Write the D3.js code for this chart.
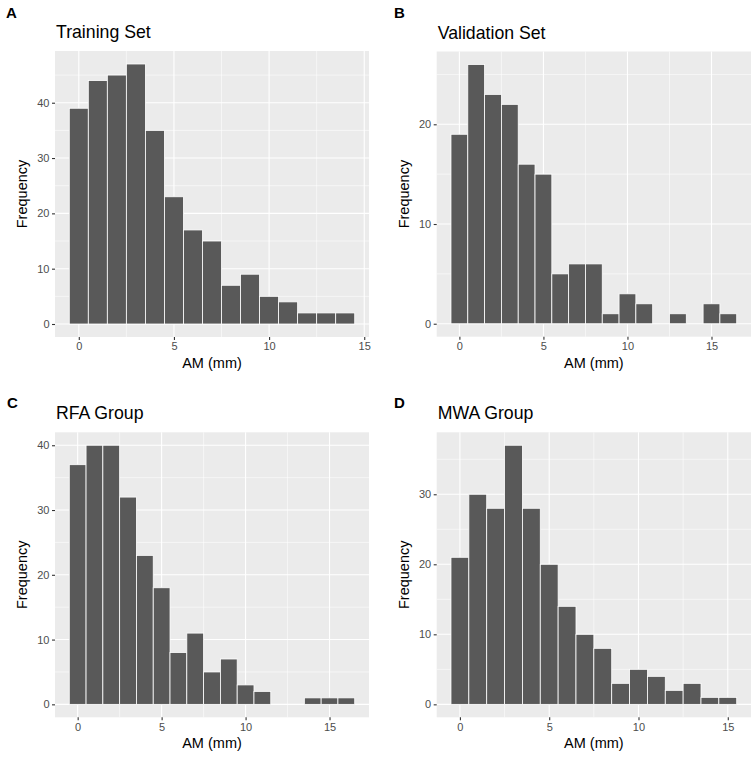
<!DOCTYPE html>
<html>
<head>
<meta charset="utf-8">
<script src="https://cdn.jsdelivr.net/npm/d3@7"></script>
<style>
  body { margin: 0; background: #fff; }
  svg { font-family: "Liberation Sans", Arial, sans-serif; }
</style>
</head>
<body>
<div id="chart"></div>
<script>
// histogram counts, one value per 1 mm bin starting at 0
var trainingSet = [39, 44, 45, 47, 35, 23, 17, 15, 7, 9, 5, 4, 2, 2, 2];
var validationSet = [19, 26, 23, 22, 16, 15, 5, 6, 6, 1, 3, 2, 0, 1, 0, 2, 1];
var rfaGroup = [37, 40, 40, 32, 23, 18, 8, 11, 5, 7, 3, 2, 0, 0, 1, 1, 1];
var mwaGroup = [21, 30, 28, 37, 28, 20, 14, 10, 8, 3, 5, 4, 2, 3, 1, 1];

var panelTitles = ["Training Set", "Validation Set", "RFA Group", "MWA Group"];
var panelLetters = ["A", "B", "C", "D"];
var xTicks = [0, 5, 10, 15];
var yTicks = [[0, 10, 20, 30, 40], [0, 10, 20], [0, 10, 20, 30, 40], [0, 10, 20, 30]];
var xLabel = "AM (mm)";
var yLabel = "Frequency";

var allCounts = [trainingSet, validationSet, rfaGroup, mwaGroup];

// panel boxes in the page
var boxes = [
  {x0: 55, x1: 369, y0: 51, y1: 337, lx: 6, ly: 18},
  {x0: 436.7, x1: 751, y0: 51.5, y1: 336.7, lx: 394, ly: 18},
  {x0: 55, x1: 369, y0: 432.3, y1: 717.3, lx: 7, ly: 408},
  {x0: 436.7, x1: 751, y0: 432.3, y1: 717.3, lx: 394, ly: 408}
];

var svg = d3.select("#chart").append("svg")
  .attr("width", 753)
  .attr("height", 758);

allCounts.forEach(function(counts, p) {
  var b = boxes[p];
  var n = counts.length;

  // ggplot style expansion: 5% on each side
  var xMin = -0.5, xMax = n - 0.5, xPad = (xMax - xMin) * 0.05;
  var x = d3.scaleLinear()
    .domain([xMin - xPad, xMax + xPad])
    .range([b.x0, b.x1]);

  var yMax = d3.max(counts), yPad = yMax * 0.05;
  var y = d3.scaleLinear()
    .domain([-yPad, yMax + yPad])
    .range([b.y1, b.y0]);

  var g = svg.append("g");

  // panel background
  g.append("rect")
    .attr("x", b.x0).attr("y", b.y0)
    .attr("width", b.x1 - b.x0).attr("height", b.y1 - b.y0)
    .attr("fill", "#EBEBEB");

  // minor grid
  var xMinor = xTicks.map(d => d + 2.5).concat([-2.5]).filter(d => d > x.domain()[0] && d < x.domain()[1]);
  var yStep = yTicks[p][1] - yTicks[p][0];
  var yMinor = d3.range(-yStep / 2, y.domain()[1], yStep).filter(d => d > y.domain()[0] && d < y.domain()[1]);

  g.selectAll(".xminor").data(xMinor).enter().append("line")
    .attr("x1", d => x(d)).attr("x2", d => x(d))
    .attr("y1", b.y0).attr("y2", b.y1)
    .attr("stroke", "#fff").attr("stroke-width", 0.55);
  g.selectAll(".yminor").data(yMinor).enter().append("line")
    .attr("x1", b.x0).attr("x2", b.x1)
    .attr("y1", d => y(d)).attr("y2", d => y(d))
    .attr("stroke", "#fff").attr("stroke-width", 0.55);

  // major grid
  g.selectAll(".xmajor").data(xTicks).enter().append("line")
    .attr("x1", d => x(d)).attr("x2", d => x(d))
    .attr("y1", b.y0).attr("y2", b.y1)
    .attr("stroke", "#fff").attr("stroke-width", 1.1);
  g.selectAll(".ymajor").data(yTicks[p]).enter().append("line")
    .attr("x1", b.x0).attr("x2", b.x1)
    .attr("y1", d => y(d)).attr("y2", d => y(d))
    .attr("stroke", "#fff").attr("stroke-width", 1.1);

  // bars
  g.selectAll(".bar").data(counts.map((c, i) => ({bin: i, count: c})).filter(d => d.count > 0))
    .enter().append("rect")
    .attr("x", d => x(d.bin - 0.5))
    .attr("width", d => x(d.bin + 0.5) - x(d.bin - 0.5))
    .attr("y", d => y(d.count))
    .attr("height", d => y(0) - y(d.count))
    .attr("fill", "#595959")
    .attr("stroke", "#fff")
    .attr("stroke-width", 0.8);

  // axes
  var bottomAxis = d3.axisBottom(x).tickValues(xTicks).tickSize(3).tickPadding(2.5);
  var leftAxis = d3.axisLeft(y).tickValues(yTicks[p]).tickSize(3).tickPadding(2.5);

  var xa = g.append("g").attr("transform", `translate(0, ${b.y1})`).call(bottomAxis);
  var ya = g.append("g").attr("transform", `translate(${b.x0}, 0)`).call(leftAxis);

  [xa, ya].forEach(function(a) {
    a.select(".domain").remove();
    a.selectAll(".tick line").attr("stroke", "#333").attr("stroke-width", 1.1);
    a.selectAll(".tick text")
      .attr("fill", "#4D4D4D")
      .style("font-size", "11px")
      .style("font-family", "'Liberation Sans', Arial, sans-serif");
  });

  // axis titles
  g.append("text")
    .attr("x", (b.x0 + b.x1) / 2)
    .attr("y", b.y1 + 31)
    .attr("text-anchor", "middle")
    .style("font-size", "14.5px")
    .text(xLabel);

  g.append("text")
    .attr("transform", `translate(${b.x0 - 28}, ${(b.y0 + b.y1) / 2}) rotate(-90)`)
    .attr("text-anchor", "middle")
    .style("font-size", "14.5px")
    .text(yLabel);

  // plot title
  g.append("text")
    .attr("x", b.x0 + 1)
    .attr("y", b.y0 - 13)
    .style("font-size", "17.7px")
    .text(panelTitles[p]);

  // panel letter
  g.append("text")
    .attr("x", b.lx)
    .attr("y", b.ly)
    .style("font-size", "15px")
    .style("font-weight", "bold")
    .text(panelLetters[p]);
});
</script>
</body>
</html>
